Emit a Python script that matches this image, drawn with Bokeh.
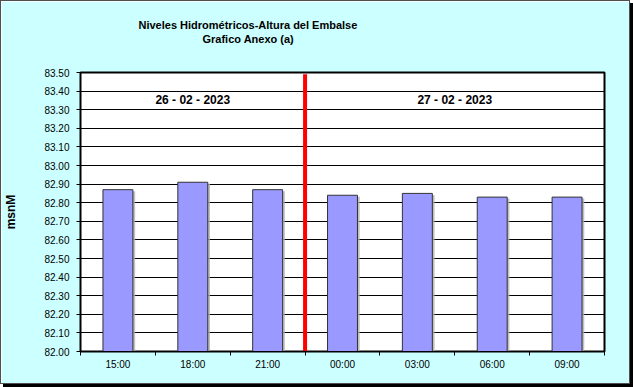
from bokeh.plotting import figure
from bokeh.models import (ColumnDataSource, FixedTicker, Label, PrintfTickFormatter,
                          Range1d, Title)
from bokeh.transform import dodge
from bokeh.embed import file_html
from bokeh.resources import INLINE

# ---- data ----
times = ["15:00", "18:00", "21:00", "00:00", "03:00", "06:00", "09:00"]
levels = [82.87, 82.91, 82.87, 82.84, 82.85, 82.83, 82.83]
y_ticks = [82.00, 82.10, 82.20, 82.30, 82.40, 82.50, 82.60, 82.70,
           82.80, 82.90, 83.00, 83.10, 83.20, 83.30, 83.40, 83.50]
day_labels = ["26 - 02 - 2023", "27 - 02 - 2023"]
day_start_idx = [0, 3]   # first category of each day
day_end_idx = [3, 7]
title_lines = ["Niveles Hidrométricos-Altura del Embalse", "Grafico Anexo (a)"]
y_label = "msnM"

FONT = "Liberation Sans"
BG = "#CCFFFF"

centers = [i + 0.5 for i in range(len(times))]
bounds = [i for i in range(len(times) + 1)]
src = ColumnDataSource(dict(x=centers, level=levels, t=times))

W, H = 630, 384
B_LEFT, B_TOP, B_RIGHT, B_BOTTOM = 75, 71, 27, 34
p = figure(width=W, height=H, output_backend="svg", toolbar_location=None,
           x_range=Range1d(0, len(times)), y_range=Range1d(y_ticks[0], y_ticks[-1]),
           min_border_left=B_LEFT, min_border_right=B_RIGHT, min_border_top=B_TOP,
           min_border_bottom=B_BOTTOM)
p.title = None
p.styles = {"border": "1px solid #505050", "box-shadow": "3px 3px 0 #000000"}
p.border_fill_color = BG
p.background_fill_color = "white"
p.outline_line_color = "black"
p.outline_line_width = 2

# spacer between the title block and the frame
p.add_layout(Title(text=" ", standoff=14, text_font=FONT, text_font_size="11px"), "above")
# title: two lines stacked above the frame (second line nearest to it)
title_offsets = [58, 122]
for t, off in reversed(list(zip(title_lines, title_offsets))):
    p.add_layout(Title(text=t, align="left", offset=off, standoff=0,
                       text_font=FONT, text_font_size="11px", text_font_style="bold",
                       text_color="black"), "above")

# shadow of bars
p.vbar(x=dodge("x", 0.03, range=p.x_range), top=dodge("level", -0.008, range=p.y_range),
       bottom=y_ticks[0], width=0.4, source=src, fill_color="#B0B0B0",
       line_color=None, fill_alpha=0.8)
p.vbar(x="x", top="level", bottom=y_ticks[0], width=0.4, source=src,
       fill_color="#9999FF", line_color="#333333", line_width=1)

# day separator (between 21:00 and 00:00)
sep_x = day_start_idx[1]
p.segment(x0=[sep_x], x1=[sep_x], y0=[y_ticks[0]], y1=[y_ticks[-1] - 0.01],
          line_color="#FF0000", line_width=4)

# day labels
for lab, s, e in zip(day_labels, day_start_idx, day_end_idx):
    p.add_layout(Label(x=(s + e) / 2, y=83.35, text=lab, text_align="center",
                       text_baseline="middle", text_font=FONT, text_font_size="12px",
                       text_font_style="bold", text_color="black"))

# y axis
ya = p.yaxis[0]
ya.ticker = FixedTicker(ticks=y_ticks, minor_ticks=[])
ya.formatter = PrintfTickFormatter(format="%.2f")
ya.major_tick_in = 0
ya.major_tick_out = 4
ya.major_tick_line_color = "black"
ya.axis_line_color = "black"
ya.major_label_text_font = FONT
ya.major_label_text_font_size = "10px"
ya.major_label_text_color = "black"
ya.major_label_standoff = 7
ya.axis_label = y_label
ya.axis_label_text_font = FONT
ya.axis_label_text_font_size = "12px"
ya.axis_label_text_font_style = "bold"
ya.axis_label_text_color = "black"
ya.axis_label_standoff = 23

# x axis
xa = p.xaxis[0]
xa.ticker = FixedTicker(ticks=centers, minor_ticks=bounds)
xa.major_label_overrides = {c: t for c, t in zip(centers, times)}
xa.major_tick_in = 0
xa.major_tick_out = 0
xa.minor_tick_in = 0
xa.minor_tick_out = 4
xa.minor_tick_line_color = "black"
xa.axis_line_color = "black"
xa.major_label_text_font = FONT
xa.major_label_text_font_size = "10px"
xa.major_label_text_color = "black"
xa.major_label_standoff = 3

p.xgrid.grid_line_color = None
p.ygrid.ticker = FixedTicker(ticks=y_ticks)
p.ygrid.grid_line_color = "black"
p.ygrid.grid_line_width = 1

open("out.html", "w").write(file_html(p, INLINE))
